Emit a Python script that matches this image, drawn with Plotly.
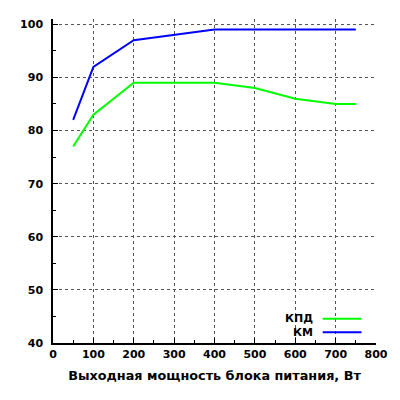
import plotly.graph_objects as go

# power output, W
power = [50, 100, 200, 300, 400, 500, 600, 700, 750]
# efficiency, %
kpd = [77, 83, 89, 89, 89, 88, 86, 85, 85]
# power factor, %
km = [82, 92, 97, 98, 99, 99, 99, 99, 99]

series_names = ['КПД', 'КМ']
series_colors = ['#00ff00', '#0000ff']
x_title = 'Выходная мощность блока питания, Вт'

FONT = 'DejaVu Sans'

fig = go.Figure()
for name, vals, col in zip(series_names, [kpd, km], series_colors):
    fig.add_trace(go.Scatter(
        x=power, y=vals, mode='lines', name=name,
        line=dict(color=col, width=2),
        showlegend=False,
    ))

# hand-made legend: text on the left, line sample on the right
for i, (name, col) in enumerate(zip(series_names, series_colors)):
    yy = 0.075 - i * 0.042
    fig.add_annotation(
        text=f'<b>{name}</b>', xref='paper', yref='paper',
        x=0.812, y=yy, xanchor='right', yanchor='middle',
        showarrow=False, font=dict(family=FONT, size=11, color='black'),
    )
    fig.add_shape(
        type='line', xref='paper', yref='paper',
        x0=0.835, x1=0.955, y0=yy, y1=yy,
        line=dict(color=col, width=2),
    )

axis_common = dict(
    showline=True, linecolor='black', linewidth=1.5,
    ticks='inside', ticklen=5, tickwidth=1, tickcolor='black',
    showgrid=True, gridcolor='#555555', gridwidth=1, griddash='dot',
    zeroline=False,
    tickfont=dict(family=FONT, size=11, color='black', weight='bold'),
    mirror=False,
)

# the page body has an 8px margin, so the figure is 392px and margins shifted
fig.update_layout(
    width=392, height=392,
    margin=dict(l=45, r=24, t=11, b=57),
    paper_bgcolor='white', plot_bgcolor='white',
    xaxis=dict(
        range=[0, 800], dtick=100, tick0=0,
        minor=dict(ticks='inside', ticklen=3, dtick=50, tickcolor='black', showgrid=False),
        title=dict(text=f'<b>{x_title}</b>', font=dict(family=FONT, size=12.8, color='black'), standoff=11),
        **axis_common,
    ),
    yaxis=dict(
        range=[40, 101], dtick=10, tick0=40,
        minor=dict(ticks='inside', ticklen=3, dtick=5, tickcolor='black', showgrid=False),
        ticklabelstandoff=6,
        **axis_common,
    ),
)

fig.write_html('out.html')
